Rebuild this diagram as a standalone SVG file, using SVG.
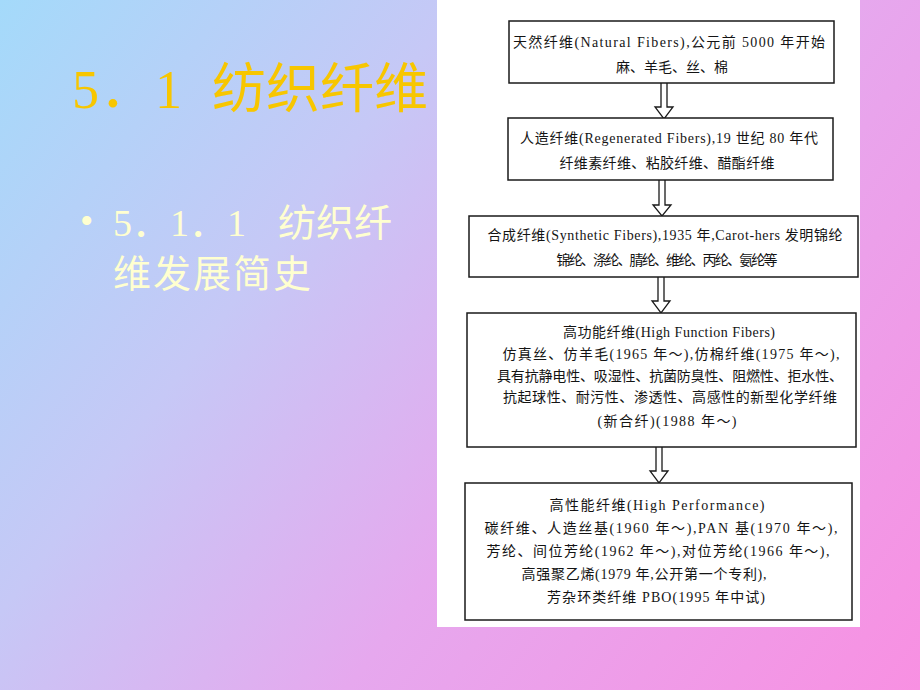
<svg xmlns="http://www.w3.org/2000/svg" width="920" height="690" viewBox="0 0 920 690">
<defs>
<linearGradient id="bg" gradientUnits="userSpaceOnUse" x1="0" y1="0" x2="920" y2="690">
<stop offset="0" stop-color="#A4DAFA"/>
<stop offset="0.32" stop-color="#C6C8F6"/>
<stop offset="0.6" stop-color="#E6A8EE"/>
<stop offset="1" stop-color="#F890E2"/>
</linearGradient>
<style>
.box{fill:#fff;stroke:#1a1a1a;stroke-width:1.5}
.arr{fill:#fff;stroke:#1a1a1a;stroke-width:1.3}
.t{font-family:"Liberation Serif","Noto Sans CJK SC",serif;font-size:14px;fill:#141414;text-anchor:middle}
.title{font-family:"Liberation Serif","Noto Sans CJK SC",serif;font-size:54px;fill:#F7C600}
.sub{font-family:"Liberation Serif","Noto Sans CJK SC",serif;font-size:38px;fill:#FFFFD0}
</style>
</defs>
<rect x="0" y="0" width="920" height="690" fill="url(#bg)"/>
<g id="title">
<text class="title" y="108"><tspan x="72">5</tspan><tspan x="100">．</tspan><tspan x="155">1</tspan><tspan x="212">纺织纤维</tspan></text>
</g>
<g id="subtitle">
<text class="sub" x="80" y="234" font-size="30">•</text>
<text class="sub" y="236"><tspan x="113">5．1．1</tspan><tspan x="278">纺织纤</tspan></text>
<text class="sub" x="113" y="287" letter-spacing="2">维发展简史</text>
</g>
<rect x="437" y="0" width="423" height="627" fill="#fff"/>
<g id="connectors">
<path class="arr" d="M661,83 V107 H655 L664,119 L673,107 H667 V83"/>
<path class="arr" d="M659,180 V205 H653 L662,216 L671,205 H665 V180"/>
<path class="arr" d="M658,277 V301 H652 L661,313 L670,301 H664 V277"/>
<path class="arr" d="M656,447 V471 H650 L659,483 L668,471 H662 V447"/>
</g>
<g id="node1">
<rect class="box" x="509" y="21" width="325" height="62"/>
<text class="t" x="669" y="47" textLength="312">天然纤维(Natural Fibers),公元前 5000 年开始</text>
<text class="t" x="672" y="72">麻、羊毛、丝、棉</text>
</g>
<g id="node2">
<rect class="box" x="508" y="118" width="325" height="62"/>
<text class="t" x="669" y="143" textLength="298">人造纤维(Regenerated Fibers),19 世纪 80 年代</text>
<text class="t" x="667" y="168" textLength="215">纤维素纤维、粘胶纤维、醋酯纤维</text>
</g>
<g id="node3">
<rect class="box" x="469" y="216" width="389" height="61"/>
<text class="t" x="665" y="240" textLength="355">合成纤维(Synthetic Fibers),1935 年,Carot-hers 发明锦纶</text>
<text class="t" x="667" y="265" textLength="221">锦纶、涤纶、腈纶、维纶、丙纶、氨纶等</text>
</g>
<g id="node4">
<rect class="box" x="467" y="313" width="389" height="134"/>
<text class="t" x="669" y="337" textLength="212">高功能纤维(High Function Fibers)</text>
<text class="t" x="671" y="359" textLength="337">仿真丝、仿羊毛(1965 年～),仿棉纤维(1975 年～),</text>
<text class="t" x="670" y="381" textLength="346">具有抗静电性、吸湿性、抗菌防臭性、阻燃性、拒水性、</text>
<text class="t" x="670" y="402" textLength="334">抗起球性、耐污性、渗透性、高感性的新型化学纤维</text>
<text class="t" x="667" y="426" textLength="139">(新合纤)(1988 年～)</text>
</g>
<g id="node5">
<rect class="box" x="465" y="483" width="387" height="137"/>
<text class="t" x="657" y="510" textLength="215">高性能纤维(High Performance)</text>
<text class="t" x="661" y="533" textLength="353">碳纤维、人造丝基(1960 年～),PAN 基(1970 年～),</text>
<text class="t" x="658" y="556" textLength="343">芳纶、间位芳纶(1962 年～),对位芳纶(1966 年～),</text>
<text class="t" x="644" y="579" textLength="245">高强聚乙烯(1979 年,公开第一个专利),</text>
<text class="t" x="656" y="602" textLength="218">芳杂环类纤维 PBO(1995 年中试)</text>
</g>
</svg>
